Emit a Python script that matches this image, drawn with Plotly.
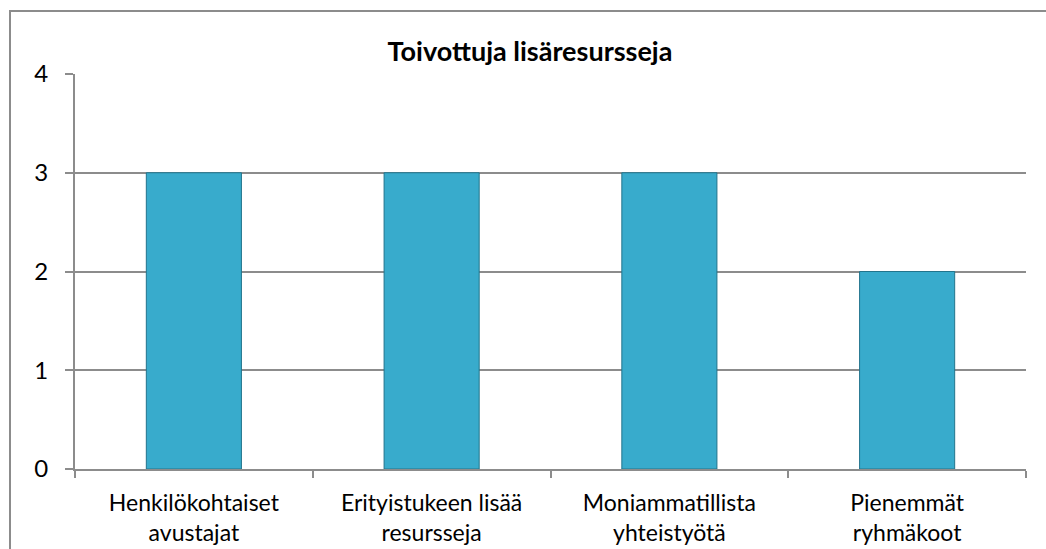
import plotly.graph_objects as go

categories = ["Henkilökohtaiset<br>avustajat", "Erityistukeen lisää<br>resursseja",
              "Moniammatillista<br>yhteistyötä", "Pienemmät<br>ryhmäkoot"]
values = [3, 3, 3, 2]
y_ticks = [0, 1, 2, 3, 4]
title_text = "Toivottuja lisäresursseja"

W, H = 1046, 549
L, R, T, B = 75, 20, 74, 80
pw, ph = W - L - R, H - T - B

def px_x(p):
    return (p - L) / pw

def px_y(p):
    return (H - B - p) / ph

grid = "#8c8c8c"
font = "Lato, Carlito, Calibri, sans-serif"

fig = go.Figure()
fig.add_trace(go.Bar(
    x=categories, y=values,
    marker=dict(color="#38ABCC", line=dict(color="#22748C", width=1)),
    width=0.4,
))

fig.update_layout(
    width=W, height=H,
    margin=dict(l=L, r=R, t=T, b=B, autoexpand=False),
    paper_bgcolor="white", plot_bgcolor="white",
    showlegend=False,
    title=dict(text="<b>" + title_text + "</b>", x=530 / W, xanchor="center",
               y=1 - 52 / H, yanchor="middle",
               font=dict(family=font, size=27, color="black")),
    font=dict(family=font, size=24, color="black"),
    xaxis=dict(type="category", showline=True, linecolor=grid, linewidth=2,
               ticks="outside", tickson="boundaries", ticklen=7, tickcolor=grid,
               tickwidth=2, showgrid=False, ticklabelstandoff=12, automargin=False,
               tickfont=dict(family=font, size=23, color="black")),
    yaxis=dict(range=[0, 4], tickvals=y_ticks, showline=True, linecolor=grid,
               linewidth=2, ticks="outside", ticklen=8, tickcolor=grid, tickwidth=2,
               showgrid=True, gridcolor=grid, gridwidth=2, zeroline=False,
               ticklabelstandoff=12, automargin=False,
               tickfont=dict(family=font, size=24, color="black")),
    shapes=[
        dict(type="rect", xref="paper", yref="paper",
             x0=px_x(10), x1=px_x(W + 20), y0=px_y(H + 20), y1=px_y(11),
             line=dict(color=grid, width=2), fillcolor="rgba(0,0,0,0)", layer="below"),
    ],
)

fig.write_html("out.html", config={"displayModeBar": False},
               post_script="document.body.style.margin='0';")
